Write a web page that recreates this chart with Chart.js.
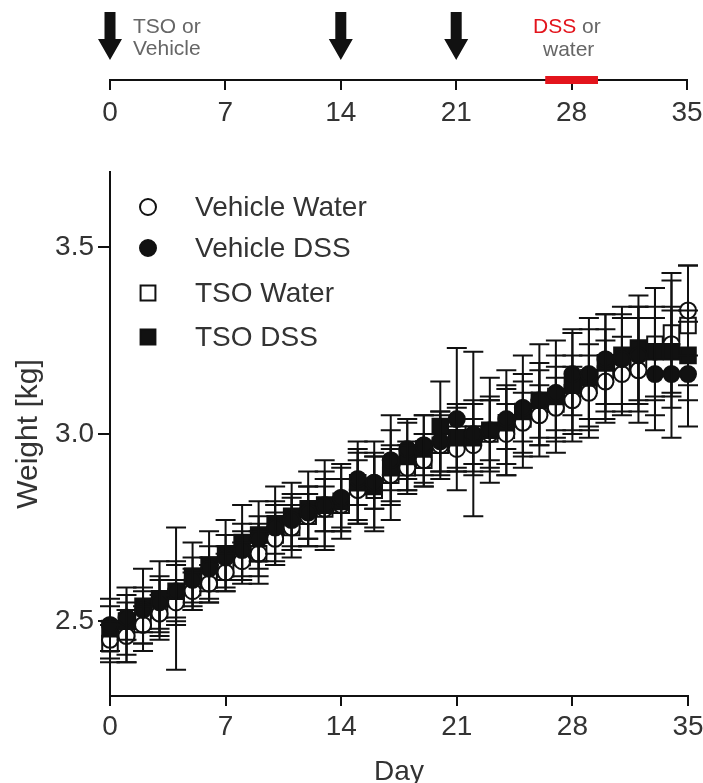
<!DOCTYPE html>
<html>
<head>
<meta charset="utf-8">
<title>Weight over time</title>
<script src="https://cdn.jsdelivr.net/npm/chart.js@4.4.1/dist/chart.umd.min.js"></script>
<style>
  html, body { margin: 0; padding: 0; background: #fff; }
  #page { position: relative; width: 703px; height: 783px; overflow: hidden; }
  #timelineBox { position: absolute; left: 0; top: 0; }
  #weightBox { position: absolute; left: 0; top: 140px; }
</style>
</head>
<body>
<div id="page">
  <div id="timelineBox"><canvas id="timelineChart" width="703" height="140"></canvas></div>
  <div id="weightBox"><canvas id="weightChart" width="703" height="643"></canvas></div>
</div>
<script>
// data
const days = [0,1,2,3,4,5,6,7,8,9,10,11,12,13,14,15,16,17,18,19,20,21,22,23,24,25,26,27,28,29,30,31,32,33,34,35];
const dayTicks = [0, 7, 14, 21, 28, 35];
const weightTicks = [2.5, 3.0, 3.5];

const vehicleWater = [2.45,2.46,2.49,2.52,2.55,2.58,2.60,2.63,2.66,2.68,2.72,2.75,2.78,2.80,2.81,2.85,2.87,2.89,2.91,2.93,2.97,2.96,2.97,3.00,3.00,3.03,3.05,3.07,3.09,3.11,3.14,3.16,3.17,3.22,3.24,3.33];
const vehicleDss   = [2.49,2.51,2.53,2.55,2.58,2.61,2.64,2.67,2.69,2.72,2.75,2.77,2.79,2.81,2.83,2.88,2.87,2.93,2.96,2.97,2.98,3.04,3.00,3.01,3.04,3.07,3.09,3.11,3.16,3.16,3.20,3.20,3.21,3.16,3.16,3.16];
const tsoWater     = [2.44,2.47,2.50,2.53,2.56,2.59,2.61,2.64,2.67,2.68,2.73,2.75,2.78,2.80,2.81,2.86,2.85,2.89,2.91,2.93,2.97,2.99,3.00,3.00,3.01,3.04,3.07,3.08,3.11,3.13,3.16,3.18,3.20,3.24,3.27,3.29];
const tsoDss       = [2.48,2.50,2.54,2.56,2.58,2.62,2.65,2.68,2.71,2.73,2.76,2.78,2.80,2.81,2.82,2.87,2.86,2.91,2.94,2.96,3.02,2.99,2.99,3.01,3.03,3.06,3.09,3.10,3.13,3.15,3.19,3.21,3.23,3.22,3.22,3.21];

// error bars (SD)
const vehicleWaterSd = [0.05,0.07,0.05,0.05,0.06,0.05,0.05,0.05,0.05,0.06,0.07,0.06,0.06,0.06,0.07,0.08,0.07,0.07,0.06,0.07,0.08,0.06,0.07,0.10,0.08,0.08,0.08,0.08,0.09,0.10,0.11,0.10,0.14,0.17,0.17,0.12];
const vehicleDssSd   = [0.07,0.06,0.06,0.07,0.07,0.06,0.06,0.06,0.07,0.06,0.07,0.07,0.07,0.07,0.08,0.07,0.07,0.08,0.08,0.08,0.08,0.19,0.08,0.08,0.08,0.09,0.10,0.10,0.11,0.12,0.12,0.12,0.13,0.15,0.17,0.14];
const tsoWaterSd     = [0.05,0.08,0.08,0.08,0.19,0.05,0.06,0.06,0.07,0.08,0.08,0.08,0.08,0.10,0.07,0.10,0.10,0.08,0.07,0.07,0.09,0.08,0.22,0.09,0.12,0.10,0.10,0.10,0.10,0.11,0.12,0.13,0.14,0.15,0.16,0.16];
const tsoDssSd       = [0.06,0.09,0.10,0.10,0.08,0.09,0.09,0.09,0.10,0.09,0.10,0.09,0.10,0.12,0.10,0.11,0.12,0.14,0.09,0.09,0.12,0.09,0.10,0.14,0.14,0.15,0.15,0.15,0.15,0.16,0.13,0.13,0.14,0.12,0.12,0.12];

// timeline (top strip)
const injectionDays = [0, 14, 21];
const dssPeriod = [26.4, 29.6];

const FONT = '"Liberation Sans", Arial, sans-serif';
const INK = '#111';
const TEXT = '#333';

function toPoints(vals) {
  return days.map((d, i) => ({ x: d, y: vals[i] }));
}

function series(label, vals, sd, style, filled, order) {
  return {
    label: label,
    data: toPoints(vals),
    sd: sd,
    pointStyle: style,
    pointRadius: style === 'rect' ? 11 : 8,
    pointBorderWidth: 2,
    pointBorderColor: INK,
    pointBackgroundColor: filled ? INK : '#fff',
    showLine: false,
    clip: false,
    order: order
  };
}

// keep the day axis running right up to the plot edge (no room for the last label)
function noSidePadding(s) {
  s.paddingLeft = 0;
  s.paddingRight = 0;
}

// 1. Error bars on top of the markers
const errorBars = {
  id: 'errorBars',
  afterDatasetsDraw(chart) {
    const { ctx, scales: { x, y } } = chart;
    ctx.save();
    ctx.strokeStyle = INK;
    ctx.lineWidth = 2;
    chart.data.datasets.forEach(ds => {
      ds.data.forEach((p, i) => {
        const px = x.getPixelForValue(p.x);
        const top = y.getPixelForValue(p.y + ds.sd[i]);
        const bot = y.getPixelForValue(p.y - ds.sd[i]);
        ctx.beginPath();
        ctx.moveTo(px, top); ctx.lineTo(px, bot);
        ctx.moveTo(px - 10, top); ctx.lineTo(px + 10, top);
        ctx.moveTo(px - 10, bot); ctx.lineTo(px + 10, bot);
        ctx.stroke();
      });
    });
    ctx.restore();
  }
};

// 2. Legend inside the plot, top left
const insideLegend = {
  id: 'insideLegend',
  afterDraw(chart) {
    const { ctx } = chart;
    const rowY = [67, 108, 153, 197];
    ctx.save();
    ctx.font = '28px ' + FONT;
    ctx.textBaseline = 'middle';
    rowY.forEach((cy, i) => {
      const ds = chart.data.datasets[i];
      ctx.strokeStyle = INK;
      ctx.fillStyle = ds.pointBackgroundColor;
      ctx.lineWidth = 2;
      Chart.helpers.drawPoint(ctx, { pointStyle: ds.pointStyle, radius: ds.pointStyle === 'rect' ? 10.5 : 8, rotation: 0, borderWidth: 2 }, 148, cy);
      ctx.fillStyle = TEXT;
      ctx.fillText(ds.label, 195, cy + 1);
    });
    ctx.restore();
  }
};

new Chart(document.getElementById('weightChart'), {
  type: 'scatter',
  data: {
    datasets: [
      series('Vehicle Water', vehicleWater, vehicleWaterSd, 'circle', false, 2),
      series('Vehicle DSS', vehicleDss, vehicleDssSd, 'circle', true, 1),
      series('TSO Water', tsoWater, tsoWaterSd, 'rect', false, 2),
      series('TSO DSS', tsoDss, tsoDssSd, 'rect', true, 1)
    ]
  },
  options: {
    responsive: false,
    animation: false,
    layout: { padding: { top: 32, right: 15, left: 0, bottom: 0 } },
    plugins: { legend: { display: false }, tooltip: { enabled: false } },
    scales: {
      x: {
        type: 'linear', min: 0, max: 35,
        afterBuildTicks: s => { s.ticks = dayTicks.map(v => ({ value: v })); },
        afterFit: s => { s.height = 87; noSidePadding(s); },
        border: { display: true, color: INK, width: 2 },
        grid: { drawOnChartArea: false, drawTicks: true, tickLength: 10, color: INK, lineWidth: 2 },
        ticks: { color: TEXT, font: { family: FONT, size: 28 }, padding: 4, maxRotation: 0 },
        title: { display: true, text: 'Day', color: TEXT, font: { family: FONT, size: 28 }, padding: { top: 0, bottom: -6 } }
      },
      y: {
        type: 'linear', min: 2.3, max: 3.7,
        afterBuildTicks: s => { s.ticks = weightTicks.map(v => ({ value: v })); },
        afterFit: s => { s.width = 110; },
        border: { display: true, color: INK, width: 2 },
        grid: { drawOnChartArea: false, drawTicks: true, tickLength: 12, color: INK, lineWidth: 2 },
        ticks: { color: TEXT, font: { family: FONT, size: 28 }, padding: 4, callback: v => v.toFixed(1) },
        title: { display: true, text: 'Weight [kg]', color: TEXT, font: { family: FONT, size: 30 }, padding: { top: 11, bottom: 0 } }
      }
    }
  },
  plugins: [errorBars, insideLegend]
});

// 3. Treatment timeline strip
const timelineMarks = {
  id: 'timelineMarks',
  afterDraw(chart) {
    const { ctx, scales: { x } } = chart;
    ctx.save();
    // injection arrows
    ctx.fillStyle = INK;
    injectionDays.forEach(d => {
      const px = x.getPixelForValue(d);
      ctx.beginPath();
      ctx.moveTo(px - 5.5, 12);
      ctx.lineTo(px + 5.5, 12);
      ctx.lineTo(px + 5.5, 39);
      ctx.lineTo(px + 12, 39);
      ctx.lineTo(px, 60);
      ctx.lineTo(px - 12, 39);
      ctx.lineTo(px - 5.5, 39);
      ctx.closePath();
      ctx.fill();
    });
    // DSS period bar
    const x0 = x.getPixelForValue(dssPeriod[0]);
    const x1 = x.getPixelForValue(dssPeriod[1]);
    ctx.fillStyle = '#e3141c';
    ctx.fillRect(x0, 76, x1 - x0, 8);
    // labels
    ctx.font = '21px ' + FONT;
    ctx.textBaseline = 'middle';
    ctx.fillStyle = '#666';
    ctx.fillText('TSO or', 133, 27);
    ctx.fillText('Vehicle', 133, 49);
    ctx.fillStyle = '#e3141c';
    ctx.fillText('DSS', 533, 27);
    const w = ctx.measureText('DSS ').width;
    ctx.fillStyle = '#666';
    ctx.fillText('or', 533 + w, 27);
    ctx.fillText('water', 543, 50);
    ctx.restore();
  }
};

new Chart(document.getElementById('timelineChart'), {
  type: 'scatter',
  data: { datasets: [{ data: [] }] },
  options: {
    responsive: false,
    animation: false,
    layout: { padding: { top: 0, right: 16, left: 110, bottom: 0 } },
    plugins: { legend: { display: false }, tooltip: { enabled: false } },
    scales: {
      x: {
        type: 'linear', min: 0, max: 35,
        afterBuildTicks: s => { s.ticks = dayTicks.map(v => ({ value: v })); },
        afterFit: s => { s.height = 60; noSidePadding(s); },
        border: { display: true, color: INK, width: 2 },
        grid: { drawOnChartArea: false, drawTicks: true, tickLength: 10, color: INK, lineWidth: 2 },
        ticks: { color: TEXT, font: { family: FONT, size: 28 }, padding: 6, maxRotation: 0 }
      },
      y: { display: false, min: 0, max: 1 }
    }
  },
  plugins: [timelineMarks]
});
</script>
</body>
</html>
